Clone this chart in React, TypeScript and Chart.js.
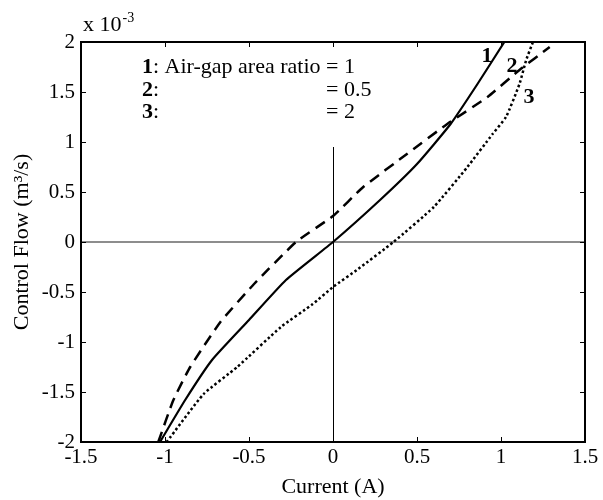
import React, { useEffect, useRef } from 'react';
import { Chart, registerables } from 'chart.js';

Chart.register(...registerables);

// Current (A) vs Control Flow (x 10^-3 m^3/s)
const curve1X = [-1.03, -0.88, -0.72, -0.5, -0.28, 0, 0.28, 0.5, 0.7, 0.86, 1.02];
const curve1Y = [-2.0, -1.58, -1.18, -0.78, -0.38, 0, 0.42, 0.78, 1.18, 1.58, 2.0];

const curve2X = [-1.04, -0.95, -0.85, -0.67, -0.47, -0.22, 0, 0.18, 0.44, 0.68, 0.92, 1.11, 1.29];
const curve2Y = [-2.0, -1.58, -1.25, -0.8, -0.42, 0, 0.26, 0.55, 0.88, 1.18, 1.45, 1.72, 1.95];

const curve3X = [-0.99, -0.77, -0.57, -0.31, -0.12, 0, 0.15, 0.36, 0.6, 0.8, 0.95, 1.03, 1.11, 1.15, 1.19];
const curve3Y = [-2.0, -1.52, -1.25, -0.85, -0.62, -0.45, -0.27, 0, 0.35, 0.75, 1.08, 1.25, 1.58, 1.82, 2.0];

const xTickValues = [-1.5, -1, -0.5, 0, 0.5, 1, 1.5];
const xTickLabels = ['-1.5', '-1', '-0.5', '0', '0.5', '1', '1.5'];
const yTickValues = [-2, -1.5, -1, -0.5, 0, 0.5, 1, 1.5, 2];
const yTickLabels = ['-2', '-1.5', '-1', '-0.5', '0', '0.5', '1', '1.5', '2'];

const xTitle = 'Current (A)';
const yTitle = 'Control Flow (m³/s)';
const exponentBase = 'x 10';
const exponentPower = '-3';

const legendNums = ['1', '2', '3'];
const legendTexts = [': Air-gap area ratio ', ':', ':'];
const legendValues = ['= 1', '= 0.5', '= 2'];
const legendAnchorX = -1.137;
const legendAnchorY = [1.745, 1.515, 1.295];

const curveLabelTexts = ['1', '2', '3'];
const curveLabelX = [0.917, 1.065, 1.167];
const curveLabelY = [1.86, 1.76, 1.45];

const verticalZeroTop = 0.95;

const FONT = "'Times New Roman', 'Liberation Serif', serif";
const TICK_SIZE = 21;
const TITLE_SIZE = 22;
const TEXT_SIZE = 22;

const toPoints = (xs: number[], ys: number[]) => xs.map((x, i) => ({ x, y: ys[i] }));

const decorPlugin = {
  id: 'decor',
  beforeDatasetsDraw(chart: any) {
    const { ctx, chartArea, scales } = chart;
    const xs = scales.x;
    const ys = scales.y;
    ctx.save();
    const y0 = ys.getPixelForValue(0);
    ctx.strokeStyle = 'rgba(0,0,0,0.6)';
    ctx.lineWidth = 1.5;
    ctx.beginPath();
    ctx.moveTo(chartArea.left, y0);
    ctx.lineTo(chartArea.right, y0);
    ctx.stroke();
    const x0 = Math.round(xs.getPixelForValue(0)) + 0.5;
    ctx.strokeStyle = '#000';
    ctx.lineWidth = 1;
    ctx.beginPath();
    ctx.moveTo(x0, ys.getPixelForValue(verticalZeroTop));
    ctx.lineTo(x0, chartArea.bottom);
    ctx.stroke();
    ctx.restore();
  },
  afterDatasetsDraw(chart: any) {
    const { ctx, chartArea, scales } = chart;
    const xs = scales.x;
    const ys = scales.y;
    const { left, right, top, bottom } = chartArea;
    ctx.save();
    ctx.strokeStyle = '#000';
    ctx.lineWidth = 1;
    const tl = 5;
    ctx.beginPath();
    xTickValues.forEach((v) => {
      const px = Math.round(xs.getPixelForValue(v)) + 0.5;
      ctx.moveTo(px, bottom);
      ctx.lineTo(px, bottom - tl);
      ctx.moveTo(px, top);
      ctx.lineTo(px, top + tl);
    });
    yTickValues.forEach((v) => {
      const py = Math.round(ys.getPixelForValue(v)) + 0.5;
      ctx.moveTo(left, py);
      ctx.lineTo(left + tl, py);
      ctx.moveTo(right, py);
      ctx.lineTo(right - tl, py);
    });
    ctx.stroke();
    ctx.lineWidth = 2;
    ctx.strokeRect(left, top, right - left, bottom - top);

    // exponent label
    ctx.fillStyle = '#000';
    ctx.textBaseline = 'alphabetic';
    ctx.textAlign = 'left';
    ctx.font = `${TEXT_SIZE}px ${FONT}`;
    const ex = left + 2;
    const ey = top - 11;
    ctx.fillText(exponentBase, ex, ey);
    const w = ctx.measureText(exponentBase).width;
    ctx.font = `14px ${FONT}`;
    ctx.fillText(exponentPower, ex + w + 1, ey - 9);

    // legend text
    const lx = xs.getPixelForValue(legendAnchorX);
    ctx.textBaseline = 'middle';
    ctx.font = `bold ${TEXT_SIZE}px ${FONT}`;
    const nW = ctx.measureText(legendNums[0]).width;
    ctx.font = `${TEXT_SIZE}px ${FONT}`;
    const eqX = lx + nW + ctx.measureText(legendTexts[0]).width;
    legendNums.forEach((n, i) => {
      const ly = ys.getPixelForValue(legendAnchorY[i]);
      ctx.font = `bold ${TEXT_SIZE}px ${FONT}`;
      ctx.fillText(n, lx, ly);
      const nw = ctx.measureText(n).width;
      ctx.font = `${TEXT_SIZE}px ${FONT}`;
      ctx.fillText(legendTexts[i], lx + nw, ly);
      ctx.fillText(legendValues[i], eqX, ly);
    });

    // curve labels
    ctx.textAlign = 'center';
    ctx.font = `bold ${TEXT_SIZE}px ${FONT}`;
    curveLabelTexts.forEach((t, i) => {
      ctx.fillText(t, xs.getPixelForValue(curveLabelX[i]), ys.getPixelForValue(curveLabelY[i]));
    });
    ctx.restore();
  },
};

export default function App() {
  const ref = useRef<HTMLCanvasElement | null>(null);
  useEffect(() => {
    if (!ref.current) return;
    const chart = new Chart(ref.current, {
      type: 'scatter',
      data: {
        datasets: [
          {
            data: toPoints(curve1X, curve1Y),
            showLine: true,
            borderColor: '#000',
            borderWidth: 2.2,
            pointRadius: 0,
            tension: 0.15,
          },
          {
            data: toPoints(curve2X, curve2Y),
            showLine: true,
            borderColor: '#000',
            borderWidth: 2.5,
            borderDash: [11, 7],
            pointRadius: 0,
            tension: 0.15,
          },
          {
            data: toPoints(curve3X, curve3Y),
            showLine: true,
            borderColor: '#000',
            borderWidth: 2.5,
            borderDash: [2.5, 2.5],
            pointRadius: 0,
            tension: 0.15,
          },
        ],
      },
      options: {
        animation: false,
        responsive: false,
        devicePixelRatio: 1,
        layout: { padding: { top: 42, right: 18, left: 0, bottom: 0 } },
        plugins: { legend: { display: false }, tooltip: { enabled: false } },
        scales: {
          x: {
            type: 'linear',
            min: -1.5,
            max: 1.5,
            afterFit: (s: any) => { s.height = 58; },
            afterBuildTicks: (s: any) => { s.ticks = xTickValues.map((v) => ({ value: v })); },
            grid: { display: false, drawTicks: false },
            border: { display: false },
            ticks: {
              autoSkip: false,
              maxRotation: 0,
              padding: 3,
              color: '#000',
              font: { family: FONT, size: TICK_SIZE },
              callback: (v: any) => xTickLabels[xTickValues.indexOf(Number(v))] ?? '',
            },
            title: {
              display: true,
              text: xTitle,
              color: '#000',
              font: { family: FONT, size: TITLE_SIZE },
              padding: { top: 0, bottom: 0 },
            },
          },
          y: {
            type: 'linear',
            min: -2,
            max: 2,
            afterFit: (s: any) => { s.width = 81; },
            afterBuildTicks: (s: any) => { s.ticks = yTickValues.map((v) => ({ value: v })); },
            grid: { display: false, drawTicks: false },
            border: { display: false },
            ticks: {
              autoSkip: false,
              padding: 6,
              color: '#000',
              font: { family: FONT, size: TICK_SIZE },
              callback: (v: any) => yTickLabels[yTickValues.indexOf(Number(v))] ?? '',
            },
            title: {
              display: true,
              text: yTitle,
              color: '#000',
              font: { family: FONT, size: TITLE_SIZE },
              padding: { top: 9, bottom: 0 },
            },
          },
        },
      },
      plugins: [decorPlugin],
    });
    return () => chart.destroy();
  }, []);
  return (
    <div style={{ position: 'absolute', left: 0, top: 0, width: 603, height: 500, background: '#fff' }}>
      <canvas ref={ref} width={603} height={500} style={{ display: 'block' }} />
    </div>
  );
}
